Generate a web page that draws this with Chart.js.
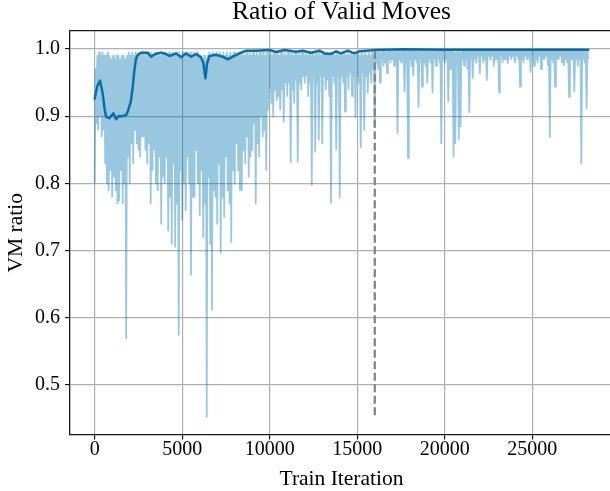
<!DOCTYPE html>
<html><head><meta charset="utf-8">
<script src="https://cdn.jsdelivr.net/npm/chart.js@4.4.1/dist/chart.umd.min.js"></script>
<style>
html,body{margin:0;padding:0;overflow:hidden;background:#fff;width:610px;height:491px}
#wrap{width:620px;height:491px}
canvas{display:block}
</style>
</head><body><div id="wrap"><canvas id="c" width="620" height="491"></canvas></div>
<script>
const titleText = "Ratio of Valid Moves";
const xLabel = "Train Iteration";
const yLabel = "VM ratio";
const xTicks = [0, 5000, 10000, 15000, 20000, 25000];
const yTicks = [0.5, 0.6, 0.7, 0.8, 0.9, 1.0];
const xRange = [-1410, 29610];
const yRange = [0.4265, 1.0268];

// raw VM ratio, logged every rawStep iterations starting at 0 (one row = 1000 iterations)
const rawStep = 50;
const rawValues = [
  0.80,0.97, 0.89,0.99, 0.88,0.995, 0.90,0.99, 0.87,0.995, 0.88,0.99, 0.83,0.99, 0.80,0.995, 0.79,0.99, 0.82,0.985,
  0.78,0.99, 0.81,0.985, 0.79,0.99, 0.77,0.99, 0.775,0.985, 0.82,0.99, 0.77,0.99, 0.80,0.985, 0.57,0.99, 0.84,0.995,
  0.80,0.99, 0.86,0.995, 0.83,0.99, 0.88,0.995, 0.86,0.99, 0.85,0.995, 0.84,0.99, 0.87,0.995, 0.87,0.99, 0.85,0.995,
  0.83,0.995, 0.86,0.99, 0.77,0.995, 0.82,0.99, 0.85,0.995, 0.80,0.99, 0.79,0.995, 0.84,0.99, 0.74,0.995, 0.81,0.99,
  0.80,0.995, 0.84,0.99, 0.73,0.995, 0.78,0.99, 0.71,0.995, 0.83,0.99, 0.706,0.995, 0.77,0.99, 0.575,0.995, 0.82,0.99,
  0.746,0.995, 0.80,0.99, 0.76,0.995, 0.84,0.99, 0.80,0.995, 0.664,0.99, 0.78,0.995, 0.78,0.99, 0.85,0.995, 0.80,0.99,
  0.753,0.99, 0.82,0.985, 0.72,0.99, 0.77,0.985, 0.453,0.99, 0.81,0.995, 0.71,0.99, 0.612,0.995, 0.79,0.99, 0.78,0.995,
  0.74,0.99, 0.83,0.995, 0.697,0.99, 0.78,0.995, 0.75,0.99, 0.84,0.995, 0.79,0.99, 0.77,0.995, 0.713,0.99, 0.82,0.995,
  0.80,0.995, 0.86,0.99, 0.82,0.995, 0.79,0.99, 0.79,0.995, 0.85,0.99, 0.83,0.995, 0.87,0.99, 0.81,0.995, 0.84,0.99,
  0.85,0.995, 0.89,0.99, 0.77,0.995, 0.86,0.99, 0.84,0.995, 0.90,0.99, 0.87,0.995, 0.88,0.99, 0.82,0.995, 0.91,0.99,
  0.942,0.995, 0.92,0.99, 0.90,0.995, 0.94,0.99, 0.924,0.995, 0.93,0.99, 0.91,0.995, 0.94,0.99, 0.892,0.995, 0.95,0.99,
  0.93,0.995, 0.95,0.99, 0.832,0.995, 0.94,0.99, 0.92,0.995, 0.955,0.99, 0.832,0.995, 0.95,0.99, 0.94,0.995, 0.96,0.99,
  0.95,0.995, 0.96,0.99, 0.93,0.995, 0.95,0.99, 0.798,0.995, 0.96,0.99, 0.847,0.995, 0.95,0.99, 0.865,0.995, 0.96,0.99,
  0.86,0.995, 0.96,0.99, 0.94,0.995, 0.955,0.99, 0.93,0.995, 0.771,0.99, 0.96,0.995, 0.95,0.99, 0.85,0.995, 0.96,0.99,
  0.779,0.995, 0.96,0.99, 0.95,0.995, 0.907,0.99, 0.96,0.995, 0.94,0.99, 0.965,0.995, 0.93,0.99, 0.96,0.995, 0.899,0.99,
  0.96,0.995, 0.95,0.99, 0.854,0.995, 0.965,0.99, 0.88,0.995, 0.96,0.99, 0.935,0.995, 0.965,0.99, 0.95,0.995, 0.97,0.99,
  0.884,0.998, 0.98,0.995, 0.97,0.998, 0.95,0.995, 0.985,0.998, 0.975,0.998, 0.98,0.995, 0.964,0.998, 0.985,0.998, 0.98,0.998,
  0.985,0.998, 0.975,0.998, 0.98,0.998, 0.875,0.998, 0.985,0.998, 0.98,0.998, 0.985,0.998, 0.937,0.998, 0.98,0.998, 0.838,0.998,
  0.985,0.998, 0.975,0.998, 0.961,0.998, 0.985,0.998, 0.98,0.998, 0.914,0.998, 0.985,0.998, 0.944,0.998, 0.98,0.998, 0.975,0.998,
  0.95,0.998, 0.985,0.998, 0.98,0.998, 0.935,0.998, 0.985,0.998, 0.975,0.998, 0.985,0.998, 0.98,0.998, 0.86,0.998, 0.985,0.998,
  0.98,0.998, 0.985,0.998, 0.922,0.998, 0.97,0.998, 0.985,0.998, 0.84,0.995, 0.86,0.995, 0.98,0.998, 0.866,0.995, 0.885,0.998,
  0.985,0.998, 0.975,0.998, 0.985,0.998, 0.97,0.998, 0.906,0.998, 0.985,0.998, 0.957,0.998, 0.985,0.998, 0.98,0.998, 0.99,0.998,
  0.964,0.998, 0.99,0.998, 0.98,0.998, 0.985,0.998, 0.954,0.998, 0.99,0.998, 0.985,0.998, 0.99,0.998, 0.975,0.998, 0.985,0.998,
  0.985,0.998, 0.936,0.998, 0.99,0.998, 0.98,0.998, 0.985,0.998, 0.985,0.998, 0.979,0.998, 0.99,0.998, 0.985,0.998, 0.99,0.998,
  0.98,0.998, 0.99,0.998, 0.985,0.998, 0.944,0.998, 0.985,0.998, 0.98,0.998, 0.99,0.998, 0.985,0.998, 0.99,0.998, 0.966,0.998,
  0.99,0.998, 0.975,0.998, 0.985,0.998, 0.98,0.998, 0.99,0.998, 0.97,0.998, 0.985,0.998, 0.985,0.998, 0.99,0.998, 0.975,0.998,
  0.869,0.998, 0.985,0.998, 0.98,0.998, 0.944,0.998, 0.985,0.998, 0.985,0.998, 0.99,0.998, 0.98,0.998, 0.976,0.998, 0.985,0.998,
  0.98,0.998, 0.929,0.998, 0.985,0.998, 0.985,0.998, 0.937,0.998, 0.985,0.998, 0.975,0.998, 0.985,0.998, 0.83,0.998, 0.985,0.998,
  0.98,0.998, 0.912,0.998, 0.985
];

// smoothed VM ratio
const smoothIters = [
  0, 150, 307, 450, 560, 650, 840, 1000, 1069, 1150, 1221, 1320, 1411, 1550, 1697, 1800, 1888,
  2000, 2078, 2180, 2269, 2360, 2459, 2650, 3030, 3221, 3469, 3792, 4078, 4269, 4650, 4935,
  5221, 5507, 5792, 6078, 6212, 6326, 6421, 6555, 6935, 7316, 7602, 7888, 8268, 8650, 9222,
  9983, 10364, 10840, 11506, 11887, 12363, 12840, 13126, 13507, 13790, 14078, 14459, 14840,
  15126, 15507, 16078, 17600, 20000, 24000, 28200
];
const smoothValues = [
  0.926, 0.945, 0.953, 0.935, 0.912, 0.8995, 0.897, 0.902, 0.9045, 0.900, 0.8955, 0.899, 0.9005, 0.900, 0.901, 0.902, 0.907,
  0.916, 0.924, 0.945, 0.969, 0.985, 0.991, 0.9946, 0.9946, 0.9886, 0.9926, 0.9946, 0.9926, 0.9896, 0.9935, 0.9876,
  0.9935, 0.9886, 0.9926, 0.9876, 0.9787, 0.9564, 0.9787, 0.9896, 0.9915, 0.9886, 0.9847, 0.9886, 0.9935, 0.9975, 0.9975,
  0.9985, 0.9955, 0.9985, 0.996, 0.9975, 0.9945, 0.9975, 0.9935, 0.9926, 0.9965, 0.9935, 0.9975, 0.9935,
  0.9965, 0.9975, 0.9985, 0.9995, 0.999, 0.999, 0.999
];

const markerIter = 16000;
const markerRange = [0.455, 1.0];

const serif = "'Liberation Serif', 'Times New Roman', serif";

new Chart(document.getElementById('c').getContext('2d'), {
  type: 'line',
  data: {
    datasets: [
      {
        label: 'split',
        data: markerRange.map(y => ({x: markerIter, y})),
        borderColor: '#7f7f7f', borderWidth: 2.2, borderDash: [8, 3.5],
        pointRadius: 0, order: 1, xAxisID: 'x', yAxisID: 'y'
      },
      {
        label: 'smoothed',
        data: smoothIters.map((x, i) => ({x, y: smoothValues[i]})),
        borderColor: '#0a6eaa', borderWidth: 2.5, borderJoinStyle: 'round', borderCapStyle: 'round',
        pointRadius: 0, order: 2, tension: 0, xAxisID: 'x', yAxisID: 'y'
      },
      {
        label: 'raw',
        data: rawValues.map((y, i) => ({x: i * rawStep, y})),
        borderColor: 'rgba(1,115,178,0.4)', borderWidth: 1.8, borderJoinStyle: 'round',
        pointRadius: 0, order: 3, tension: 0, xAxisID: 'x', yAxisID: 'y'
      }
    ]
  },
  options: {
    responsive: false, animation: false, devicePixelRatio: 1,
    layout: {padding: {left: 0, right: 7, top: 0, bottom: 0}},
    plugins: {legend: {display: false}, tooltip: {enabled: false}, title: {display: false}},
    scales: {
      x: {
        type: 'linear', axis: 'x', position: 'bottom', min: xRange[0], max: xRange[1],
        afterBuildTicks: s => { s.ticks = xTicks.map(v => ({value: v})); },
        afterFit: s => { s.height = 56.5; },
        ticks: {callback: v => String(v), font: {family: serif, size: 20, lineHeight: 1}, color: '#000',
                padding: 0, maxRotation: 0, autoSkip: false},
        grid: {color: '#b0b0b0', lineWidth: 1.2, tickColor: '#000', tickLength: 5, tickWidth: 1.1},
        border: {display: true, color: '#1a1a1a', width: 1.3},
        title: {display: true, text: xLabel, font: {family: serif, size: 21.5, lineHeight: 1}, color: '#000',
                padding: {top: 0, bottom: 1}}
      },
      xTop: {
        type: 'linear', axis: 'x', position: 'top', min: xRange[0], max: xRange[1],
        afterFit: s => { s.height = 31; },
        ticks: {display: false},
        grid: {display: false, drawTicks: false},
        border: {display: true, color: '#1a1a1a', width: 1.3},
        title: {display: true, text: titleText, font: {family: serif, size: 25.5, lineHeight: 1}, color: '#000',
                padding: {top: 0, bottom: 0}}
      },
      y: {
        type: 'linear', axis: 'y', position: 'left', min: yRange[0], max: yRange[1],
        afterBuildTicks: s => { s.ticks = yTicks.map(v => ({value: v})); },
        afterFit: s => { s.width = 70; },
        ticks: {callback: v => v.toFixed(1), font: {family: serif, size: 20, lineHeight: 1}, color: '#000', padding: 5},
        grid: {color: '#b0b0b0', lineWidth: 1.2, tickColor: '#000', tickLength: 5, tickWidth: 1.1},
        border: {display: true, color: '#1a1a1a', width: 1.3},
        title: {display: true, text: yLabel, font: {family: serif, size: 21.5, lineHeight: 1}, color: '#000',
                padding: {top: 6, bottom: 0}}
      }
    }
  }
});
</script>
</body></html>
